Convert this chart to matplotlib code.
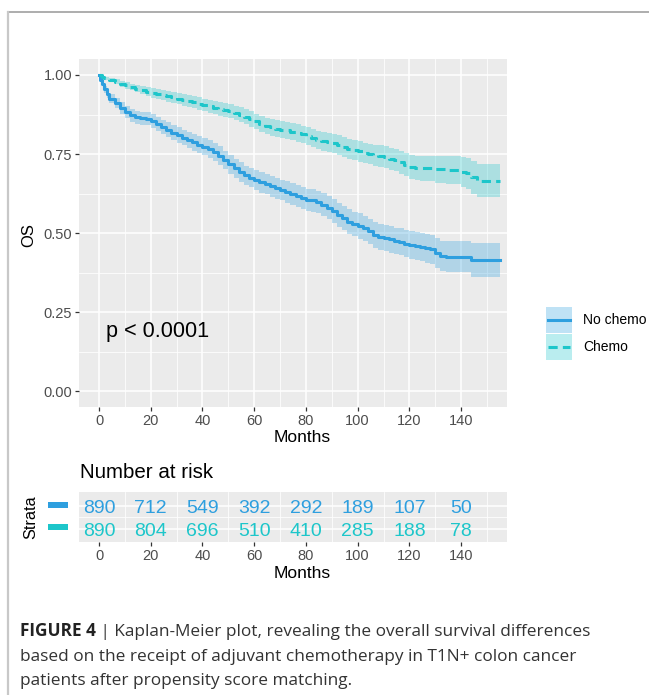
import numpy as np
import matplotlib
matplotlib.use('Agg')
import matplotlib.pyplot as plt
from matplotlib.patches import Rectangle
from matplotlib.lines import Line2D

plt.rcParams['font.family'] = ['Liberation Sans', 'DejaVu Sans']

# ---------------- data ----------------
groups = ['No chemo', 'Chemo']
colors = ['#2E9FDF', '#1DC6CA']

nochemo_time = [0, 0.5, 1, 2, 3, 4, 6, 8, 10, 12, 14, 16, 18, 20,
                22, 24, 26, 28, 30, 32, 34, 36, 38, 40, 42, 44, 46, 48, 50, 52, 54, 56, 58,
                60, 62, 64, 66, 68, 70, 72, 74, 76, 78, 80, 82, 84, 86, 88, 90, 92, 94, 96, 98,
                100, 102, 104, 106, 108, 110, 112, 114, 116, 118, 120, 122, 124, 126, 128, 130, 132, 134,
                144, 155]
nochemo_surv = [1.000, 0.985, 0.972, 0.955, 0.940, 0.925, 0.910, 0.895, 0.882, 0.872, 0.866, 0.863, 0.862, 0.855,
                0.845, 0.835, 0.827, 0.818, 0.810, 0.802, 0.795, 0.787, 0.780, 0.773, 0.766, 0.757, 0.745, 0.730, 0.717, 0.705, 0.693, 0.682, 0.675,
                0.667, 0.660, 0.654, 0.648, 0.642, 0.636, 0.630, 0.624, 0.617, 0.610, 0.605, 0.603, 0.598, 0.590, 0.580, 0.570, 0.558, 0.547, 0.536, 0.529,
                0.522, 0.515, 0.505, 0.493, 0.488, 0.485, 0.480, 0.475, 0.472, 0.466, 0.462, 0.458, 0.455, 0.452, 0.448, 0.436, 0.428, 0.425,
                0.415, 0.415]
nochemo_ci = [0.000, 0.005, 0.008, 0.011, 0.013, 0.015, 0.016, 0.018, 0.019, 0.020, 0.020, 0.021, 0.021, 0.022,
              0.022, 0.023, 0.023, 0.024, 0.024, 0.025, 0.025, 0.026, 0.027, 0.027, 0.028, 0.028, 0.029, 0.029, 0.030, 0.030, 0.031, 0.031, 0.031,
              0.032, 0.032, 0.032, 0.033, 0.033, 0.033, 0.034, 0.034, 0.034, 0.035, 0.035, 0.036, 0.036, 0.036, 0.037, 0.037, 0.038, 0.038, 0.039, 0.039,
              0.040, 0.040, 0.040, 0.041, 0.041, 0.041, 0.042, 0.042, 0.043, 0.043, 0.044, 0.044, 0.045, 0.046, 0.047, 0.048, 0.048, 0.049,
              0.053, 0.053]

chemo_time = [0, 1, 2, 4, 6, 8, 10, 12, 14, 16, 18, 20, 22, 24, 26, 28, 30, 32, 34, 36, 38, 40,
              42, 44, 46, 48, 50, 52, 54, 56, 58, 60, 62, 64, 66, 68, 70, 72, 74, 76, 78, 80,
              82, 84, 86, 88, 90, 92, 94, 96, 98, 100, 102, 104, 106, 108, 110, 112, 114, 116, 118, 120,
              122, 124, 130, 134, 140, 142, 144, 146, 155]
chemo_surv = [1.000, 0.995, 0.990, 0.984, 0.978, 0.972, 0.967, 0.962, 0.957, 0.952, 0.947, 0.943, 0.940, 0.937, 0.933, 0.929, 0.925, 0.921, 0.917, 0.913, 0.909, 0.905,
              0.901, 0.897, 0.893, 0.890, 0.886, 0.880, 0.874, 0.868, 0.860, 0.853, 0.845, 0.838, 0.834, 0.830, 0.827, 0.825, 0.821, 0.817, 0.812, 0.806,
              0.800, 0.794, 0.790, 0.787, 0.784, 0.778, 0.772, 0.766, 0.762, 0.758, 0.754, 0.750, 0.746, 0.743, 0.740, 0.735, 0.730, 0.724, 0.716, 0.710,
              0.706, 0.705, 0.702, 0.699, 0.693, 0.689, 0.676, 0.666, 0.666]
chemo_ci = [0.000, 0.003, 0.005, 0.007, 0.008, 0.009, 0.010, 0.011, 0.012, 0.013, 0.014, 0.015, 0.016, 0.016, 0.017, 0.017, 0.018, 0.018, 0.019, 0.019, 0.020, 0.020,
            0.021, 0.021, 0.022, 0.022, 0.023, 0.023, 0.024, 0.024, 0.025, 0.025, 0.026, 0.026, 0.026, 0.027, 0.027, 0.027, 0.028, 0.028, 0.028, 0.029,
            0.029, 0.029, 0.030, 0.030, 0.030, 0.031, 0.031, 0.031, 0.032, 0.032, 0.032, 0.033, 0.033, 0.034, 0.034, 0.035, 0.035, 0.036, 0.037, 0.038,
            0.039, 0.040, 0.043, 0.045, 0.048, 0.049, 0.052, 0.053, 0.053]

risk_times = [0, 20, 40, 60, 80, 100, 120, 140]
risk_nochemo = [890, 712, 549, 392, 292, 189, 107, 50]
risk_chemo = [890, 804, 696, 510, 410, 285, 188, 78]

xticks = [0, 20, 40, 60, 80, 100, 120, 140]
yticks = [0.00, 0.25, 0.50, 0.75, 1.00]
ytick_labels = ['0.00', '0.25', '0.50', '0.75', '1.00']
p_label = 'p < 0.0001'
caption_bold = 'FIGURE 4'
caption_lines = [' | Kaplan-Meier plot, revealing the overall survival differences',
                 'based on the receipt of adjuvant chemotherapy in T1N+ colon cancer',
                 'patients after propensity score matching.']

# ---------------- figure ----------------
W, H = 649, 695
fig = plt.figure(figsize=(W / 100, H / 100), dpi=100)
fig.patch.set_facecolor('white')


def px_axes(x0, y0, x1, y1):
    return fig.add_axes([x0 / W, 1 - y1 / H, (x1 - x0) / W, (y1 - y0) / H])


PANEL = '#EBEBEB'
TICKLAB = '#4D4D4D'
TICK = '#333333'

# main KM panel
ax = px_axes(79, 59.2, 507, 406.8)
ax.set_facecolor(PANEL)
for sp in ax.spines.values():
    sp.set_visible(False)
ax.set_xlim(-7.75, 157.75)
ax.set_ylim(-0.05, 1.05)
ax.set_xticks(xticks)
ax.set_xticks([10, 30, 50, 70, 90, 110, 130, 150], minor=True)
ax.set_yticks(yticks)
ax.set_yticklabels(ytick_labels)
ax.set_yticks([0.125, 0.375, 0.625, 0.875], minor=True)
ax.grid(which='major', color='white', lw=1.1)
ax.grid(which='minor', color='white', lw=0.55)
ax.set_axisbelow(True)
ax.tick_params(which='major', length=3, width=0.9, color=TICK, labelcolor=TICKLAB,
               labelsize=10.5, pad=2)
ax.tick_params(which='minor', length=0)

series = [(nochemo_time, nochemo_surv, nochemo_ci),
          (chemo_time, chemo_surv, chemo_ci)]
styles = ['-', (0, (3.0, 1.7))]
for (t, s, ci), col, ls in zip(series, colors, styles):
    t = np.asarray(t, float)
    s = np.asarray(s, float)
    ci = np.asarray(ci, float)
    ax.fill_between(t, s - ci, np.minimum(s + ci, 1.0), step='post', color=col, alpha=0.3, lw=0)
    ax.step(t, s, where='post', color=col, lw=2.2, ls=ls)

ax.text(22.8, 0.172, p_label, fontsize=15.6, ha='center', va='baseline', color='black')

# risk table panel
rx = px_axes(79, 492, 507, 542)
rx.set_facecolor(PANEL)
for sp in rx.spines.values():
    sp.set_visible(False)
rx.set_xlim(-7.75, 157.75)
rx.set_ylim(1 - 13.5 / 22.5, 2 + 14.0 / 22.5)
rx.set_xticks(xticks)
rx.set_xticks([10, 30, 50, 70, 90, 110, 130, 150], minor=True)
rx.set_yticks([1, 2])
rx.set_yticks([1.5], minor=True)
rx.set_yticklabels([])
rx.grid(which='major', axis='y', color='white', lw=1.1)
rx.grid(which='minor', color='white', lw=0.55)
rx.set_axisbelow(True)
rx.tick_params(axis='x', which='major', length=3, width=0.9, color=TICK, labelcolor=TICKLAB,
               labelsize=10.5, pad=2)
rx.tick_params(axis='y', length=0)
rx.tick_params(which='minor', length=0)
for vals, yrow, col in [(risk_nochemo, 2, colors[0]), (risk_chemo, 1, colors[1])]:
    for tt, v in zip(risk_times, vals):
        rx.text(tt, yrow - 7.0 / 22.5, str(v), ha='center', va='baseline', fontsize=14, color=col)

# overlay in pixel coordinates
ov = fig.add_axes([0, 0, 1, 1])
ov.set_xlim(0, W)
ov.set_ylim(H, 0)
ov.axis('off')
ov.patch.set_alpha(0)

# frame lines
ov.add_line(Line2D([8, W], [12, 12], color='#A0A0A0', lw=1.2))
ov.add_line(Line2D([8, 8], [12, H], color='#C8C8C8', lw=1.6))

# axis titles
ov.text(29, 235, 'OS', rotation=90, ha='center', va='center', fontsize=12)
ov.text(302, 437, 'Months', ha='center', va='center', fontsize=12.5)
ov.text(302, 573, 'Months', ha='center', va='center', fontsize=12.5)
ov.text(80, 472, 'Number at risk', ha='left', va='center', fontsize=14.8)
ov.text(31, 517, 'Strata', rotation=90, ha='center', va='center', fontsize=11.7)

# strata colour keys
for yy, col in zip([504.5, 526.5], colors):
    ov.add_patch(Rectangle((48, yy - 3), 20, 6, color=col, lw=0))

# legend
for i, (lab, col, ls) in enumerate(zip(groups, colors, styles)):
    y0 = 307 + i * 27
    ov.add_patch(Rectangle((546, y0), 26, 26, facecolor=col, alpha=0.3, lw=0))
    ov.add_line(Line2D([548, 570], [y0 + 13, y0 + 13], color=col, lw=2.2, ls=ls))
    ov.text(583, y0 + 13, lab, ha='left', va='center', fontsize=10)

# caption: fit line 1 to the reference width (x 20 -> 592)
cap_font = ['Open Sans', 'Liberation Sans', 'DejaVu Sans']
base = [636, 661, 685]
renderer = fig.canvas.get_renderer()
trial = 11.0
t1 = ov.text(20, base[0], caption_bold, fontsize=trial, fontweight='bold', family=cap_font,
             ha='left', va='baseline')
t2 = ov.text(20, base[0], caption_lines[0], fontsize=trial, family=cap_font, ha='left', va='baseline')
wtot = t1.get_window_extent(renderer).width + t2.get_window_extent(renderer).width
t1.remove()
t2.remove()
size = trial * 572.0 / wtot

tb = ov.text(20, base[0], caption_bold, fontsize=size, fontweight='bold', family=cap_font,
             ha='left', va='baseline', color='#222222')
bb = tb.get_window_extent(renderer)
ov.text(bb.x1, base[0], caption_lines[0], fontsize=size, family=cap_font,
        ha='left', va='baseline', color='#333333')
for yb, line in zip(base[1:], caption_lines[1:]):
    ov.text(20, yb, line, fontsize=size, family=cap_font, ha='left', va='baseline', color='#333333')

fig.savefig('out.png', dpi=100)
